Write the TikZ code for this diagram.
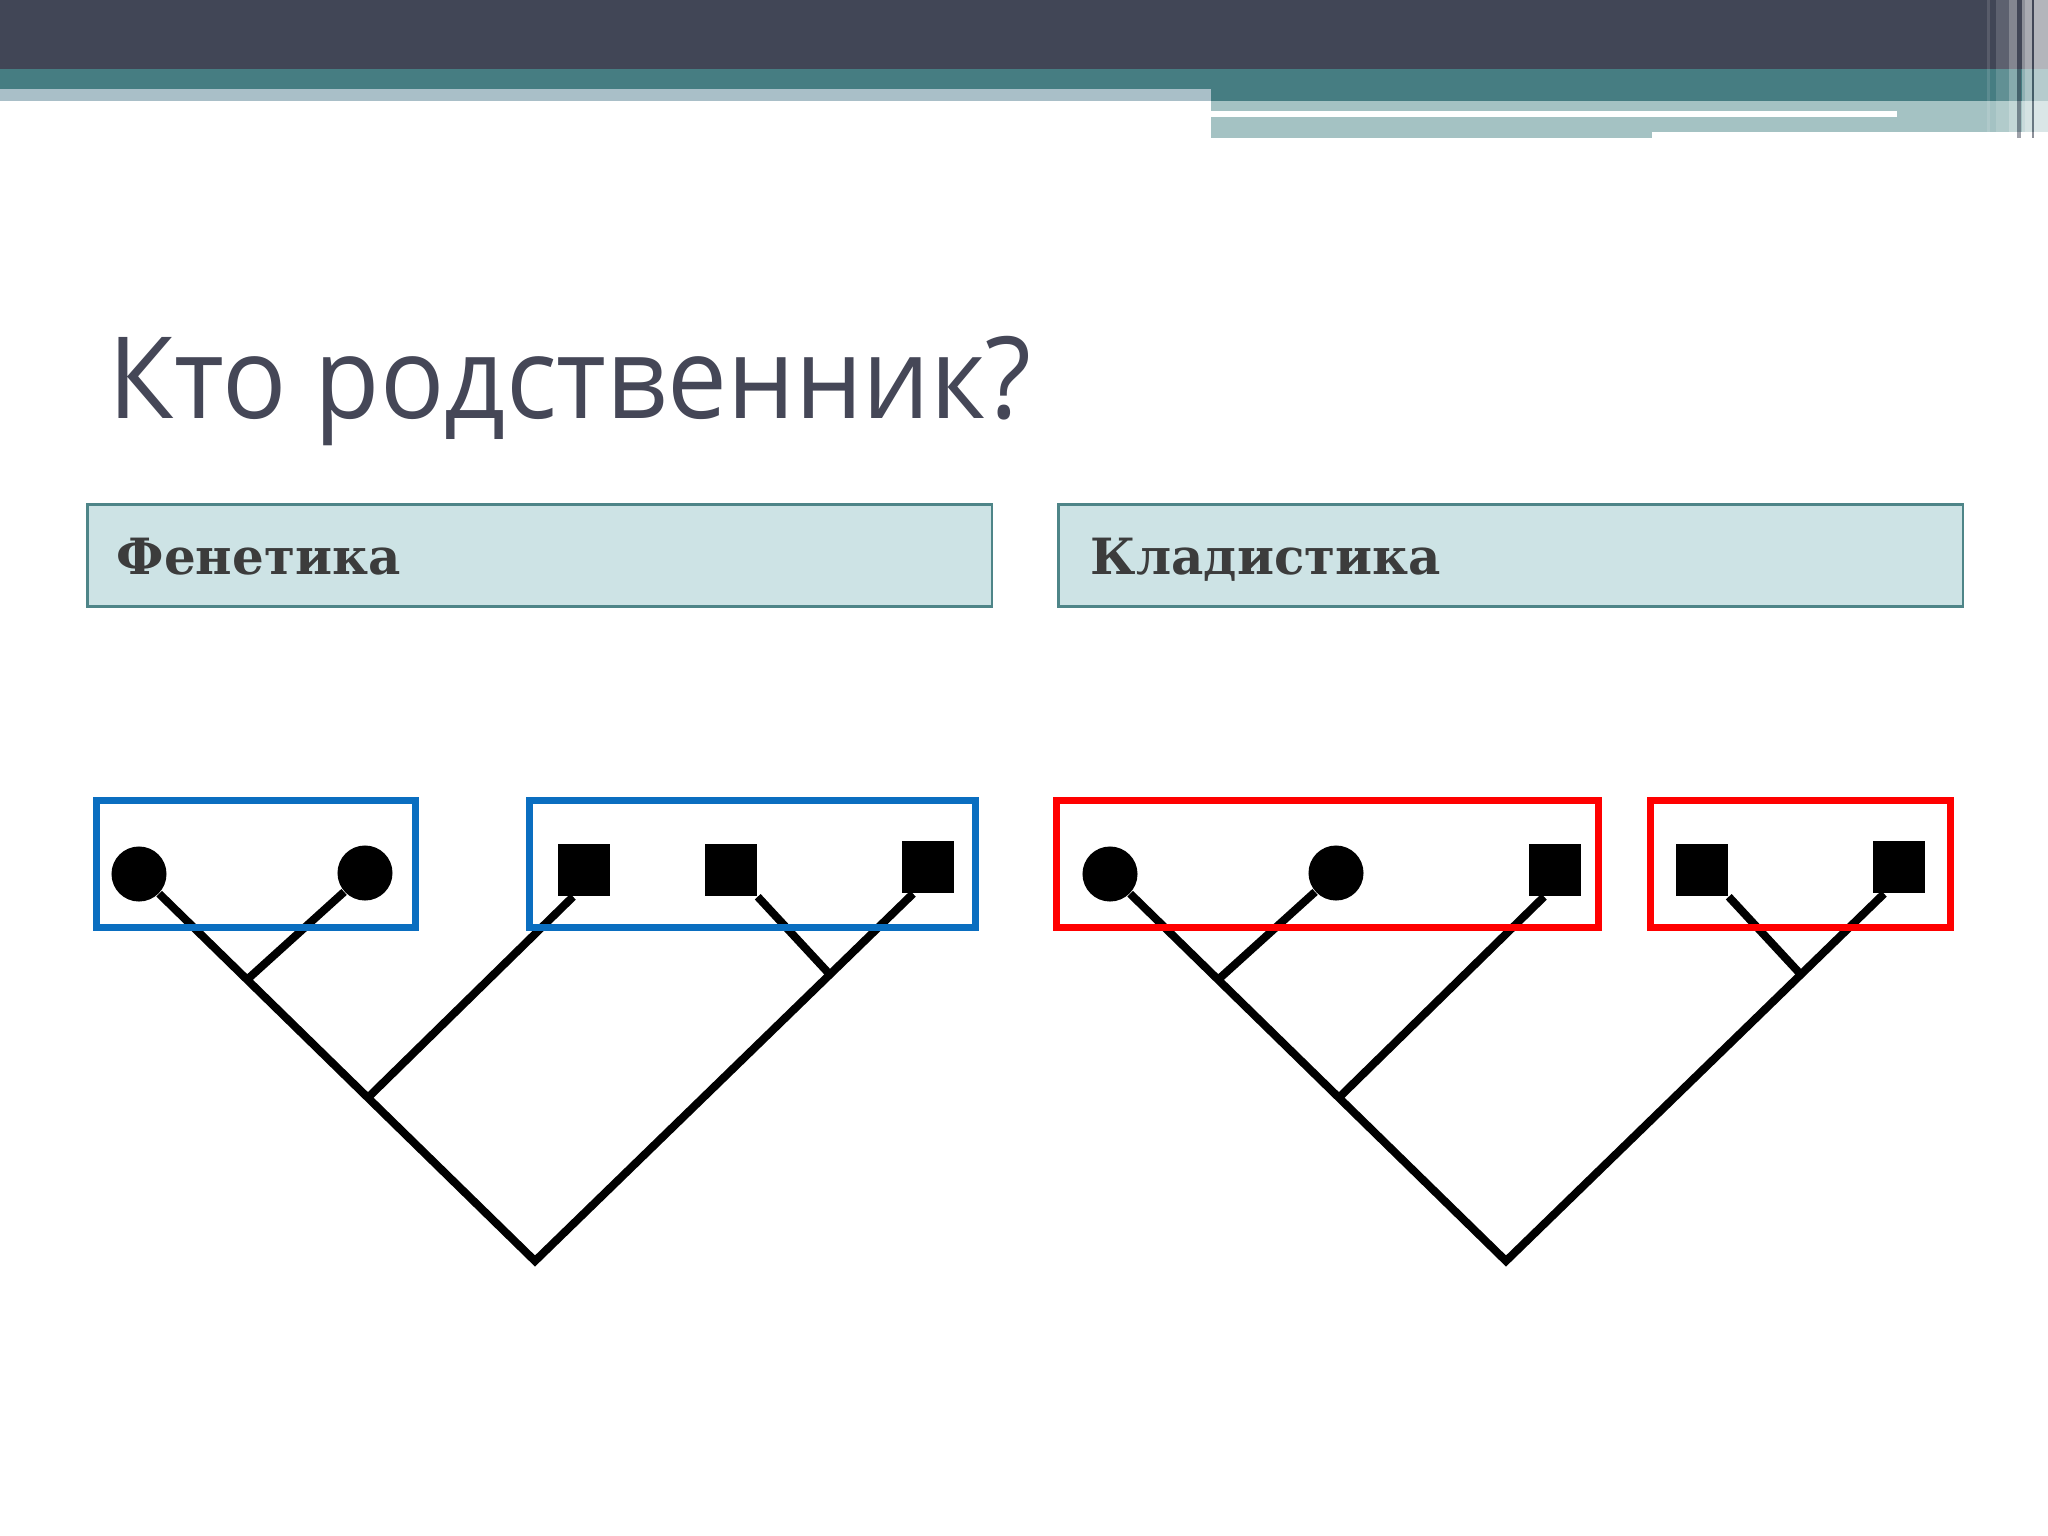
\documentclass[tikz,border=0pt]{standalone}
\usepackage{fontspec}
\newfontfamily\titlefont[FakeStretch=0.94]{Open Sans}
\newfontfamily\headfont{DejaVu Serif}
\usetikzlibrary{calc}
\definecolor{darkbar}{HTML}{414656}
\definecolor{tealbar}{HTML}{467D82}
\definecolor{lightleft}{HTML}{A9BFC8}
\definecolor{lightright}{HTML}{A4C2C3}
\definecolor{titlecol}{HTML}{454757}
\definecolor{hdrfill}{HTML}{CDE3E5}
\definecolor{hdrline}{HTML}{4E8588}
\definecolor{hdrtext}{HTML}{3C3C3C}
\definecolor{grpblue}{HTML}{0A6EC0}
\definecolor{grpred}{HTML}{FF0000}
\begin{document}
\begin{tikzpicture}[x=0.01cm,y=-0.01cm,
  branch/.style={line width=0.08cm, draw=black, line join=miter},
  leafdot/.style={circle, fill=black, minimum size=0.55cm, inner sep=0pt},
  leafsq/.style={rectangle, fill=black, minimum size=0.52cm, inner sep=0pt},
  bluegroup/.style={draw=grpblue, line width=0.072cm},
  redgroup/.style={draw=grpred, line width=0.072cm},
  hdrbox/.style={fill=hdrfill, draw=hdrline, line width=0.025cm, anchor=north west, inner sep=0pt, minimum width=9.04cm, minimum height=1.02cm},
  hdrlabel/.style={anchor=base west, inner sep=0pt, text=hdrtext, font=\headfont\bfseries\fontsize{14.2}{17}\selectfont},
  stripe/.style={fill=white, draw=none}]
% canvas
\fill[white] (0,0) rectangle (2048,1536);
\useasboundingbox (0,0) rectangle (2048,1536);
% header bars
\fill[darkbar] (0,0) rectangle (2048,69);
\fill[tealbar] (0,69) rectangle (2048,101);
\fill[lightleft] (0,89) rectangle (1211,101);
\fill[lightright] (1211,101) rectangle (2048,132);
\fill[lightright] (1211,132) rectangle (1652,138);
\fill[white] (1211,111) rectangle (1897,117);
% vertical stripes at the right end
\fill[stripe, opacity=0.12] (1987,0) rectangle (1990,132);
\fill[stripe, opacity=0.15] (1996,0) rectangle (2009,132);
\fill[stripe, opacity=0.35] (2009,0) rectangle (2017,138);
\fill[darkbar, opacity=0.5] (2017,0) rectangle (2021,138);
\fill[stripe, opacity=0.40] (2022,0) rectangle (2025,138);
\fill[stripe, opacity=0.55] (2025,0) rectangle (2032,138);
\fill[darkbar, opacity=0.6] (2032,0) rectangle (2034,138);
\fill[stripe, opacity=0.60] (2034,0) rectangle (2048,138);
% title
\node[anchor=base west, inner sep=0pt, text=titlecol, font=\titlefont\fontsize{32.3}{38}\selectfont] (title) at (108,418) {Кто родственник?};
% column headers
\node[hdrbox] (phenbox) at (86,503) {};
\node[hdrbox] (cladbox) at (1057,503) {};
\node[hdrlabel] (phen) at (116,574) {Фенетика};
\node[hdrlabel] (clad) at (1090,574) {Кладистика};
% trees
\foreach \p/\d in {L/0,R/971}{
  \node[leafdot] (\p-c1) at (139+\d,874) {};
  \node[leafdot] (\p-c2) at (365+\d,873) {};
  \node[leafsq] (\p-s1) at (584+\d,870) {};
  \node[leafsq] (\p-s2) at (731+\d,870) {};
  \node[leafsq] (\p-s3) at (928+\d,867) {};
  \coordinate (\p-root) at (535+\d,1261);
  \coordinate (\p-s3b) at ($(\p-s3.south)+(-15,0)$);
  \coordinate (\p-s1b) at ($(\p-s1.south)+(-11,0)$);
  \coordinate (\p-j1) at ($(\p-c1)!0.273!(\p-root)$);
  \coordinate (\p-j2) at ($(\p-c1)!0.578!(\p-root)$);
  \coordinate (\p-j3) at ($(\p-s3b)!0.22!(\p-root)$);
  \draw[branch] (\p-c1) -- (\p-root) -- (\p-s3b);
  \draw[branch] (\p-c2) -- (\p-j1);
  \draw[branch] (\p-s1b) -- (\p-j2);
  \draw[branch] (\p-s2.south east) -- (\p-j3);
}
% group frames
\draw[bluegroup] (96.5,800.5) rectangle (415.5,927.5);
\draw[bluegroup] (529.5,800.5) rectangle (975.5,927.5);
\draw[redgroup] (1056.5,800.5) rectangle (1598.5,927.5);
\draw[redgroup] (1650.5,800.5) rectangle (1950.5,927.5);
\end{tikzpicture}
\end{document}
